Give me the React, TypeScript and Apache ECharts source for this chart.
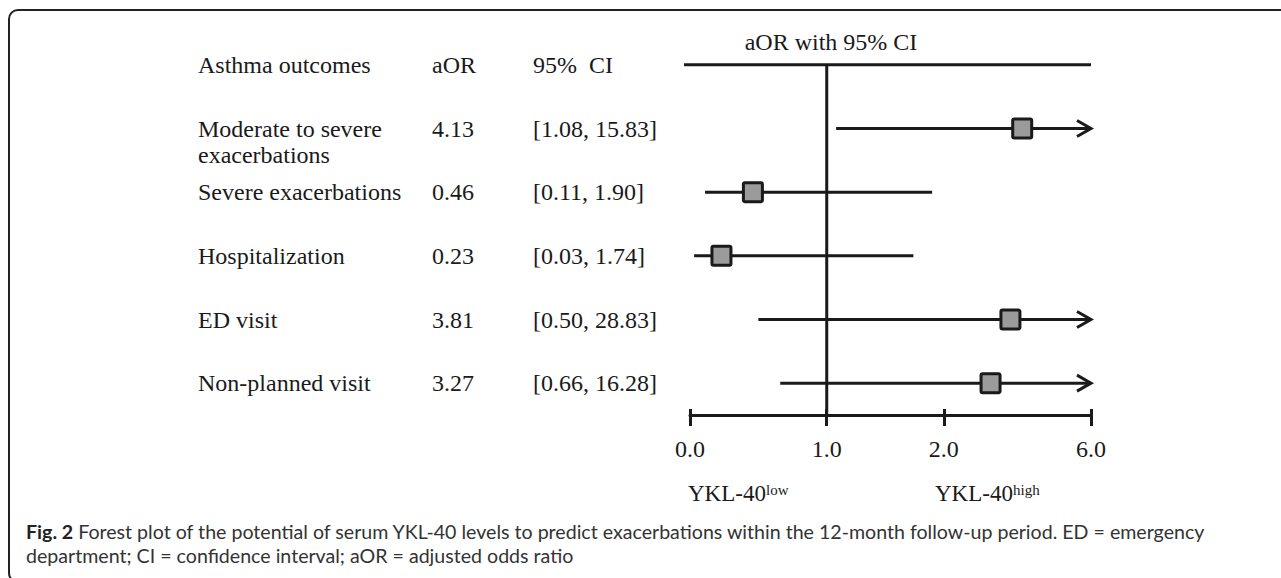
import React, { useEffect, useRef } from "react";
import * as echarts from "echarts";

// ---- data ----
const HEADER = ["Asthma outcomes", "aOR", "95%  CI"];
const OUTCOMES = [
  "Moderate to severe\nexacerbations",
  "Severe exacerbations",
  "Hospitalization",
  "ED visit",
  "Non-planned visit",
];
const AOR = [4.13, 0.46, 0.23, 3.81, 3.27];
const CI_LOW = [1.08, 0.11, 0.03, 0.5, 0.66];
const CI_HIGH = [15.83, 1.9, 1.74, 28.83, 16.28];
const TICK_VALUES = [0, 1, 2, 6];
const TICK_LABELS = ["0.0", "1.0", "2.0", "6.0"];
// the original figure's non-uniform axis: where each tick value sits along the axis (0..1)
const TICK_FRACTIONS = [0, 0.341, 0.633, 1];
const AXIS_TITLE = "aOR with 95% CI";
const GROUP_LABELS = ["YKL-40", "YKL-40"];
const GROUP_SUPS = ["low", "high"];
const CAPTION_BOLD = "Fig. 2";
const CAPTION_1 =
  " Forest plot of the potential of serum YKL-40 levels to predict exacerbations within the 12-month follow-up period. ED = emergency";
const CAPTION_2 = "department; CI = confidence interval; aOR = adjusted odds ratio";

// piecewise-linear scale of the figure
function T(v: number): number {
  const vv = Math.max(TICK_VALUES[0], Math.min(v, TICK_VALUES[TICK_VALUES.length - 1]));
  for (let i = 0; i < TICK_VALUES.length - 1; i++) {
    const a = TICK_VALUES[i], b = TICK_VALUES[i + 1];
    if (vv <= b) {
      const t = (vv - a) / (b - a);
      return TICK_FRACTIONS[i] + t * (TICK_FRACTIONS[i + 1] - TICK_FRACTIONS[i]);
    }
  }
  return 1;
}
const MAX_V = TICK_VALUES[TICK_VALUES.length - 1];

const SERIF = "'Liberation Serif', 'Times New Roman', serif";
const SANS = "Lato, 'Open Sans', sans-serif";
const INK = "#1a1a1a";
const FS = 24;

export default function App() {
  const ref = useRef<HTMLDivElement>(null);
  useEffect(() => {
    if (!ref.current) return;
    const chart = echarts.init(ref.current, undefined, { renderer: "svg" });

    const yCats = ["header", ...OUTCOMES];
    const tickPos = TICK_VALUES.map(T);

    const rich = {
      a: { fontFamily: SERIF, fontSize: FS, color: INK, width: 234, lineHeight: 26, align: "left" },
      b: { fontFamily: SERIF, fontSize: FS, color: INK, width: 101, lineHeight: 26, align: "left" },
      c: { fontFamily: SERIF, fontSize: FS, color: INK, lineHeight: 26, align: "left" },
    };

    const labelFormatter = (_v: string, idx: number) => {
      if (idx === 0) return `{a|${HEADER[0]}}{b|${HEADER[1]}}{c|${HEADER[2]}}`;
      const i = idx - 1;
      const lines = OUTCOMES[i].split("\n");
      const main = `{a|${lines[0]}}{b|${AOR[i].toFixed(2)}}{c|[${CI_LOW[i].toFixed(2)}, ${CI_HIGH[i].toFixed(2)}]}`;
      if (lines.length > 1) {
        return `{a| }\n${main}\n` + lines.slice(1).map((l) => `{a|${l}}`).join("\n");
      }
      return main;
    };

    const rowData = OUTCOMES.map((_, i) => [i + 1, AOR[i], CI_LOW[i], CI_HIGH[i]]);

    const option: any = {
      animation: false,
      grid: { left: 690, right: 190, top: 33, bottom: 163, containLabel: false },
      xAxis: [
        {
          type: "value",
          min: 0,
          max: 1,
          position: "bottom",
          splitLine: { show: false },
          axisLine: { show: true, lineStyle: { color: INK, width: 3 } },
          axisTick: { show: true, length: 11, lineStyle: { color: INK, width: 3 }, customValues: tickPos },
          axisLabel: {
            show: true,
            margin: 22,
            fontFamily: SERIF,
            fontSize: FS,
            color: INK,
            customValues: tickPos,
            formatter: (v: number) => {
              let best = 0;
              tickPos.forEach((p, k) => {
                if (Math.abs(p - v) < Math.abs(tickPos[best] - v)) best = k;
              });
              return TICK_LABELS[best];
            },
          },
        },
        {
          type: "value",
          min: 0,
          max: 1,
          position: "bottom",
          offset: 0,
          splitLine: { show: false },
          axisLine: { show: false },
          axisTick: { show: true, inside: true, length: 6, lineStyle: { color: INK, width: 3 }, customValues: tickPos },
          axisLabel: { show: false },
        },
      ],
      yAxis: {
        type: "category",
        inverse: true,
        data: yCats,
        axisLine: { show: false },
        axisTick: { show: false },
        splitLine: { show: false },
        axisLabel: {
          interval: 0,
          hideOverlap: false,
          align: "left",
          margin: 492,
          formatter: labelFormatter,
          rich,
        },
      },
      series: [
        {
          type: "custom",
          name: "frame",
          data: [[0]],
          clip: false,
          renderItem: (params: any, api: any) => {
            const row = api.value(0);
            const [x0, y0] = api.coord([T(0), row]);
            const [x6] = api.coord([T(MAX_V), row]);
            const [x1] = api.coord([T(1), row]);
            const cs = params.coordSys;
            const bottom = cs.y + cs.height;
            return {
              type: "group",
              children: [
                { type: "line", shape: { x1: x0 - 6, y1: y0, x2: x6, y2: y0 }, style: { stroke: INK, lineWidth: 3 } },
                { type: "line", shape: { x1: x1, y1: y0, x2: x1, y2: bottom }, style: { stroke: INK, lineWidth: 3 } },
              ],
            };
          },
        },
        {
          type: "custom",
          name: "aOR",
          data: rowData,
          clip: false,
          renderItem: (_params: any, api: any) => {
            const row = api.value(0);
            const aor = api.value(1);
            const lo = api.value(2);
            const hi = api.value(3);
            const [xl, y] = api.coord([T(lo), row]);
            const [xh] = api.coord([T(hi), row]);
            const [xa] = api.coord([T(aor), row]);
            const children: any[] = [
              { type: "line", shape: { x1: xl, y1: y, x2: xh, y2: y }, style: { stroke: INK, lineWidth: 3 } },
            ];
            if (hi > MAX_V) {
              children.push({
                type: "polyline",
                shape: { points: [[xh - 14, y - 8], [xh, y], [xh - 14, y + 8]] },
                style: { stroke: INK, lineWidth: 3, fill: "none", lineJoin: "miter" },
              });
            }
            children.push({
              type: "rect",
              shape: { x: xa - 9.5, y: y - 9.5, width: 19, height: 19, r: 1.5 },
              style: { fill: "#9b9b9b", stroke: INK, lineWidth: 3 },
            });
            return { type: "group", children };
          },
        },
      ],
      graphic: [
        {
          type: "rect",
          shape: { x: 9, y: 10, width: 1320, height: 572, r: 9 },
          style: { fill: "none", stroke: "#222", lineWidth: 2 },
          silent: true,
        },
        {
          type: "text",
          x: 831,
          y: 42,
          style: { text: AXIS_TITLE, fontFamily: SERIF, fontSize: FS, fill: INK, align: "center", verticalAlign: "middle" },
        },
        {
          type: "text",
          x: 688,
          y: 493,
          style: { text: GROUP_LABELS[0], fontFamily: SERIF, fontSize: 23, fill: INK, align: "left", verticalAlign: "middle" },
        },
        {
          type: "text",
          x: 766,
          y: 482,
          style: { text: GROUP_SUPS[0], fontFamily: SERIF, fontSize: 15, fill: INK, align: "left", verticalAlign: "top" },
        },
        {
          type: "text",
          x: 935,
          y: 493,
          style: { text: GROUP_LABELS[1], fontFamily: SERIF, fontSize: 23, fill: INK, align: "left", verticalAlign: "middle" },
        },
        {
          type: "text",
          x: 1013,
          y: 482,
          style: { text: GROUP_SUPS[1], fontFamily: SERIF, fontSize: 15, fill: INK, align: "left", verticalAlign: "top" },
        },
        {
          type: "text",
          x: 26,
          y: 531,
          style: {
            text: `{b|${CAPTION_BOLD}}{n|${CAPTION_1}}`,
            verticalAlign: "middle",
            rich: {
              b: { fontFamily: SANS, fontWeight: "bold", fontSize: 19.6, fill: "#222" },
              n: { fontFamily: SANS, fontSize: 19.6, fill: "#333" },
            },
          },
        },
        {
          type: "text",
          x: 26,
          y: 555,
          style: { text: CAPTION_2, fontFamily: SANS, fontSize: 19.6, fill: "#333", verticalAlign: "middle" },
        },
      ],
    };

    chart.setOption(option);
    return () => chart.dispose();
  }, []);

  return (
    <div
      ref={ref}
      style={{ position: "absolute", left: 0, top: 0, width: 1281, height: 578, background: "#fff" }}
    />
  );
}
